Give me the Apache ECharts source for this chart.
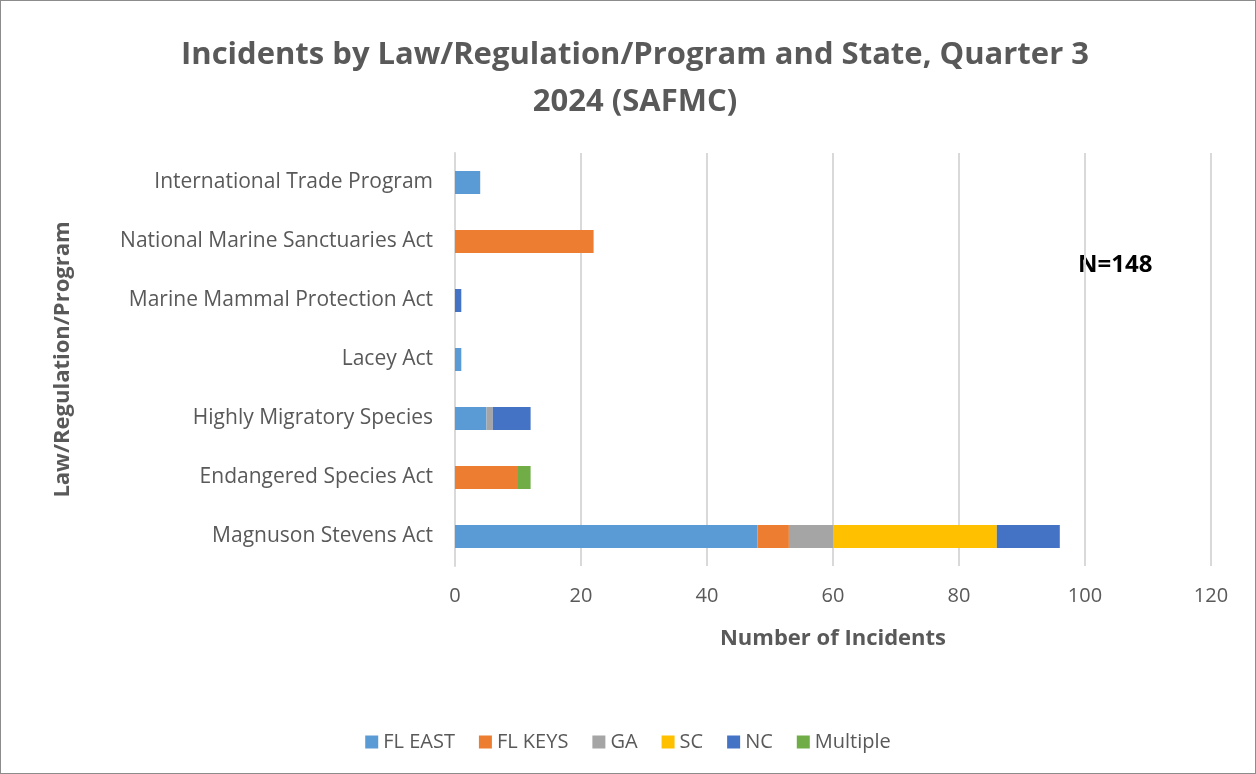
<!DOCTYPE html>
<html>
<head>
<meta charset="utf-8">
<script src="https://cdn.jsdelivr.net/npm/echarts@6/dist/echarts.min.js"></script>
<style>
  html, body { margin: 0; padding: 0; background: #fff; }
  #chart { width: 1256px; height: 774px; box-sizing: border-box; border: 1px solid #8c8c8c; }
</style>
</head>
<body>
<div id="chart"></div>
<script>
// 类别（自下而上）
var categories = ['Magnuson Stevens Act', 'Endangered Species Act', 'Highly Migratory Species',
    'Lacey Act', 'Marine Mammal Protection Act', 'National Marine Sanctuaries Act', 'International Trade Program'];
var flEast   = [48, 0, 5, 1, 0, 0, 4];
var flKeys   = [5, 10, 0, 0, 0, 22, 0];
var ga       = [7, 0, 1, 0, 0, 0, 0];
var sc       = [26, 0, 0, 0, 0, 0, 0];
var nc       = [10, 0, 6, 0, 1, 0, 0];
var multiple = [0, 2, 0, 0, 0, 0, 0];
var xTicks = [0, 20, 40, 60, 80, 100, 120];

var myChart = echarts.init(document.getElementById('chart'));
var font = '"Open Sans", "Noto Sans", sans-serif';

function bar(name, data, color) {
    return {
        name: name,
        type: 'bar',
        stack: 'total',
        barWidth: 23,
        data: data.map(function (v) { return v === 0 ? null : v; }),
        itemStyle: { color: color }
    };
}

var option = {
    animation: false,
    textStyle: { fontFamily: font },
    title: {
        text: 'Incidents by Law/Regulation/Program and State, Quarter 3\n2024 (SAFMC)',
        left: 629,
        textAlign: 'center',
        top: 26,
        textStyle: { fontSize: 31, fontWeight: 'bold', color: '#595959', lineHeight: 47, fontFamily: font }
    },
    legend: {
        bottom: 16,
        left: 'center',
        icon: 'rect',
        itemWidth: 13,
        itemHeight: 13,
        itemGap: 24,
        textStyle: { fontSize: 20, color: '#595959', fontFamily: font },
        data: ['FL EAST', 'FL KEYS', 'GA', 'SC', 'NC', 'Multiple']
    },
    grid: { left: 454, right: 44, top: 152, bottom: 207, containLabel: false },
    xAxis: {
        type: 'value',
        min: 0,
        max: 120,
        interval: 20,
        name: 'Number of Incidents',
        nameLocation: 'middle',
        nameGap: 62,
        nameTextStyle: { fontSize: 22, fontWeight: 'bold', color: '#595959', fontFamily: font },
        axisLabel: {
            fontSize: 20, color: '#595959', margin: 20, fontFamily: font,
            formatter: function (v) { return xTicks.indexOf(v) >= 0 ? String(v) : ''; }
        },
        axisLine: { show: false },
        axisTick: { show: false },
        splitLine: { lineStyle: { color: '#d9d9d9', width: 2 } }
    },
    yAxis: {
        type: 'category',
        data: categories,
        name: 'Law/Regulation/Program',
        nameLocation: 'middle',
        nameGap: 381,
        nameRotate: 90,
        nameTextStyle: { fontSize: 22, fontWeight: 'bold', color: '#595959', fontFamily: font },
        axisLabel: { fontSize: 21, color: '#595959', margin: 22, fontFamily: font },
        axisLine: { show: true, lineStyle: { color: '#d9d9d9', width: 2 } },
        axisTick: { show: false }
    },
    graphic: [{
        type: 'text',
        left: 1077,
        top: 252,
        style: { text: 'N=148', fontSize: 24, fontWeight: 'bold', fill: '#000', fontFamily: font }
    }],
    series: [
        bar('FL EAST', flEast, '#5b9bd5'),
        bar('FL KEYS', flKeys, '#ed7d31'),
        bar('GA', ga, '#a5a5a5'),
        bar('SC', sc, '#ffc000'),
        bar('NC', nc, '#4472c4'),
        bar('Multiple', multiple, '#70ad47')
    ]
};
myChart.setOption(option);
</script>
</body>
</html>
